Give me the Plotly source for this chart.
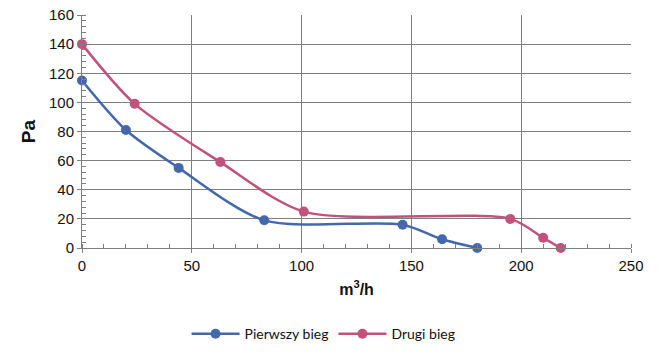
import plotly.graph_objects as go

x_pierwszy = [0, 20, 44, 83, 146, 164, 180]
y_pierwszy = [115, 81, 55, 19, 16, 6, 0]
x_drugi = [0, 24, 63, 101, 195, 210, 218]
y_drugi = [140, 99, 59, 25, 20, 7, 0]
names = ["Pierwszy bieg", "Drugi bieg"]
colors = ["#4468a9", "#c1527b"]

fig = go.Figure()
for xs, ys, n, c in [(x_pierwszy, y_pierwszy, names[0], colors[0]), (x_drugi, y_drugi, names[1], colors[1])]:
    fig.add_trace(go.Scatter(x=xs, y=ys, name=n, mode="lines+markers",
                             line=dict(color=c, width=2.5, shape="spline", smoothing=0.8),
                             marker=dict(color=c, size=10), cliponaxis=False))

fig.update_layout(
    width=661, height=356,
    margin=dict(l=82, r=30, t=15, b=108, autoexpand=False),
    plot_bgcolor="white", paper_bgcolor="white",
    font=dict(family="Liberation Sans, Arial, sans-serif", size=15, color="#111"),
    showlegend=True,
    legend=dict(orientation="h", x=0.44, xanchor="center", y=-0.37, yanchor="middle",
                font=dict(family="Lato, sans-serif", size=14), itemwidth=48),
    xaxis=dict(range=[0, 250], dtick=50, showgrid=True, gridcolor="#7f7f7f", gridwidth=1,
               showline=True, linecolor="#7f7f7f", ticks="outside", ticklen=4, tickcolor="#7f7f7f",
               minor=dict(dtick=10, ticks="inside", ticklen=4, tickcolor="#7f7f7f", showgrid=False),
               zeroline=False, automargin=False, ticklabeloverflow="allow",
               title=dict(text="<b>m<sup>3</sup>/h</b>", standoff=10, font=dict(size=16))),
    yaxis=dict(range=[0, 160], tickmode="linear", tick0=0, dtick=20, showgrid=True,
               gridcolor="#7f7f7f", gridwidth=1, ticklabeloverflow="allow",
               showline=True, linecolor="#7f7f7f", ticks="outside", ticklen=4, tickcolor="#7f7f7f",
               minor=dict(dtick=4, ticks="inside", ticklen=4, tickcolor="#7f7f7f", showgrid=False),
               zeroline=False, automargin=False,
               title=dict(text="<b>Pa</b>", standoff=8, font=dict(size=19))),
)
fig.write_html("out.html", config={"displayModeBar": False},
               post_script="document.body.style.margin='0';")
